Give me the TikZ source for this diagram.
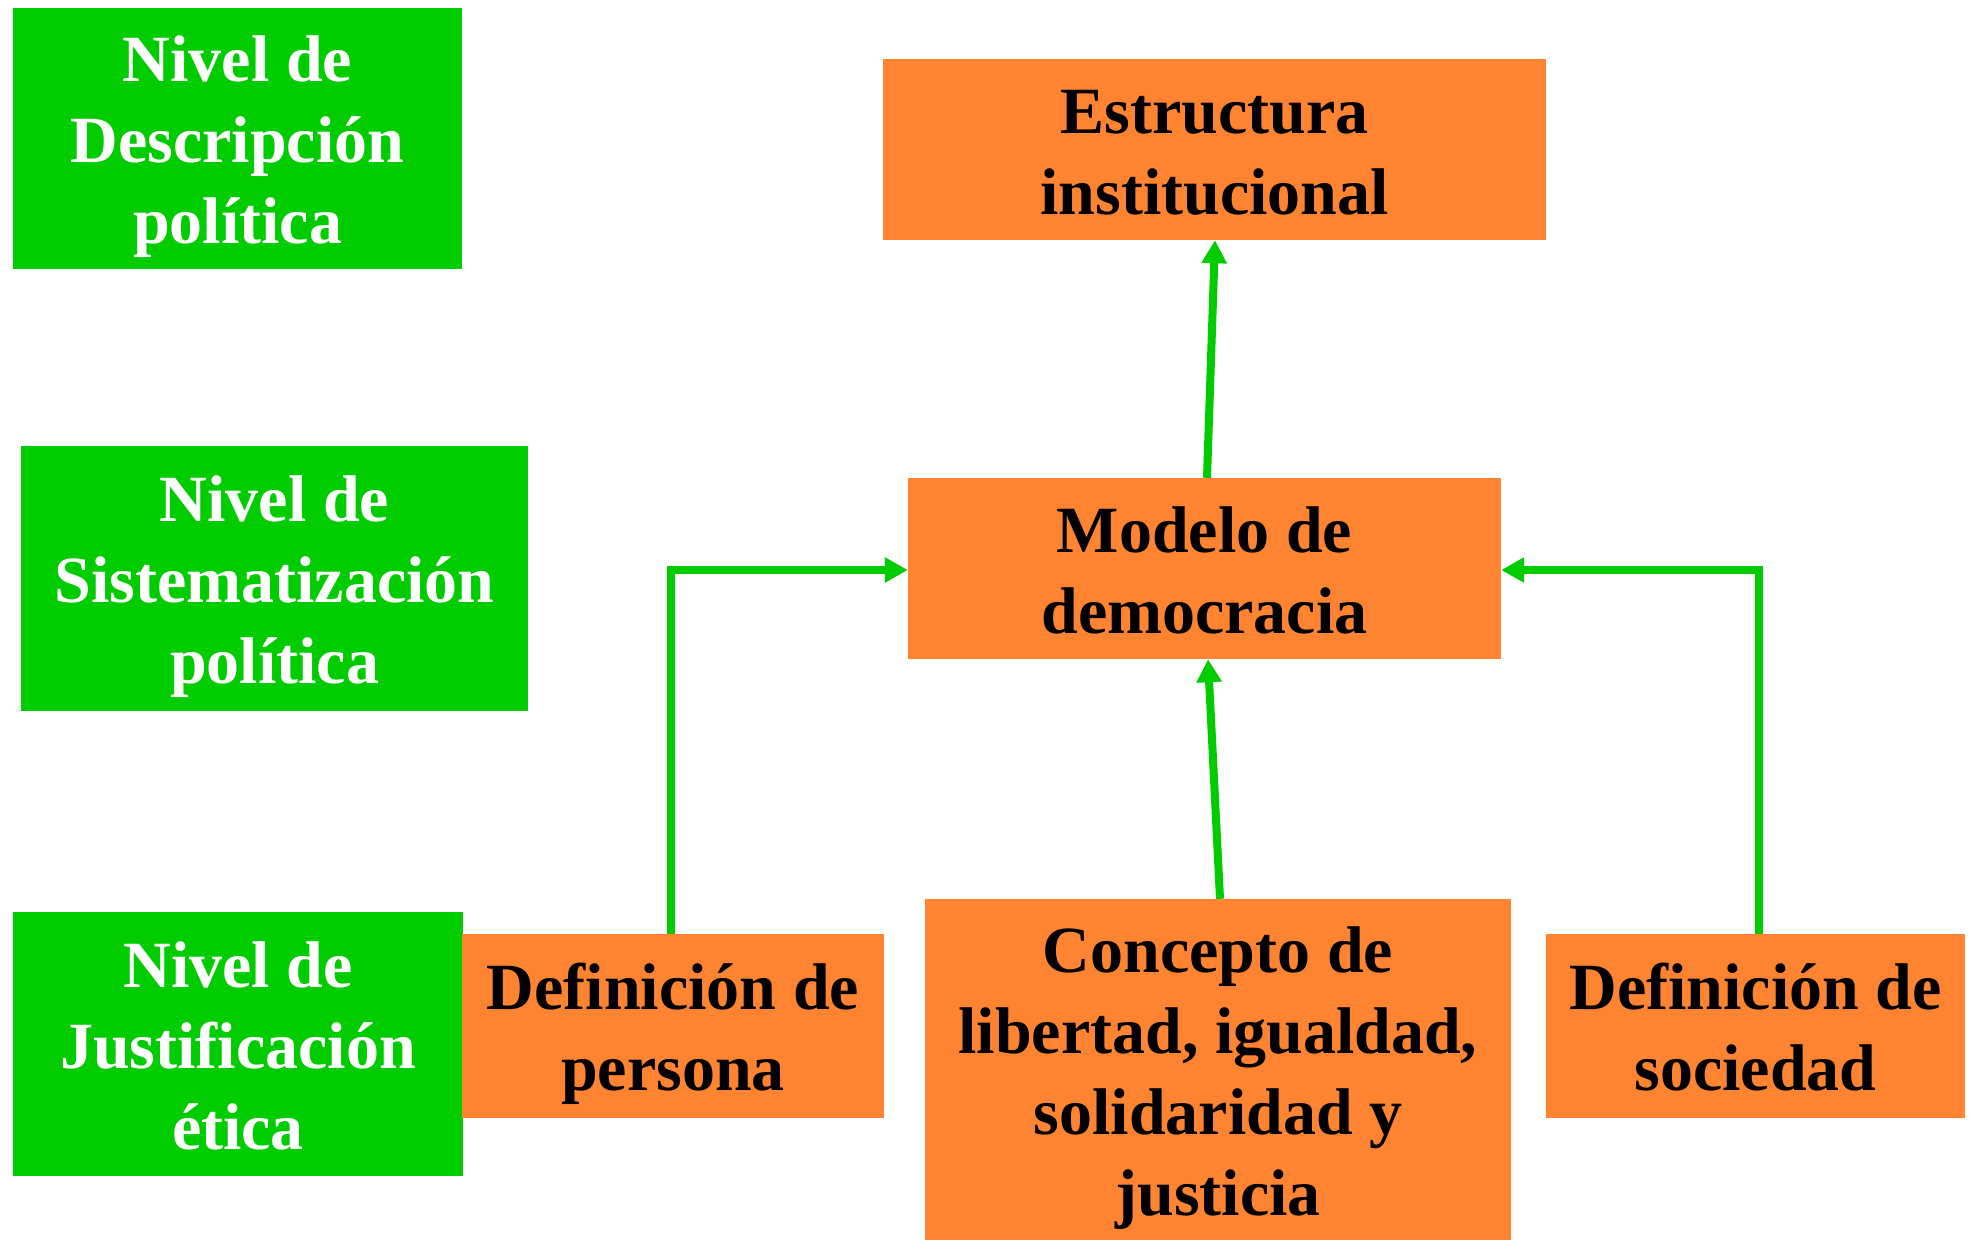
\documentclass[tikz,border=0pt]{standalone}
\usepackage{fontspec}
\setmainfont{Liberation Serif}
\usetikzlibrary{arrows.meta}
\definecolor{boxgreen}{RGB}{0,204,0}
\definecolor{boxorange}{RGB}{255,132,49}
\newcommand{\topS}{\rule{0pt}{72.7pt}}
\newcommand{\botS}{\rule[-24.3pt]{0pt}{0pt}}
\begin{document}
\begin{tikzpicture}[x=1pt,y=-1pt,
  box/.style={rectangle, inner sep=0pt, align=center, font=\fontsize{66}{81}\selectfont\bfseries},
  levelbox/.style={box, fill=boxgreen, text=white},
  itembox/.style={box, fill=boxorange, text=black},
  link/.style={draw=boxgreen, line width=8pt, -{Triangle[length=23pt,width=24pt]}}]
\useasboundingbox (0,0) rectangle (1973,1240);
\fill[white] (0,0) rectangle (1973,1240);

\node[levelbox, minimum width=449pt, minimum height=261pt] (desc) at (237.5,138.5) {\topS Nivel de\\Descripción\\política\botS};
\node[levelbox, minimum width=507pt, minimum height=265pt] (sist) at (274.5,578.5) {\topS Nivel de\\Sistematización\\política\botS};
\node[levelbox, minimum width=450pt, minimum height=264pt] (just) at (238,1044) {\topS Nivel de\\Justificación\\ética\botS};

\node[itembox, minimum width=663pt, minimum height=181pt] (estructura) at (1214.5,149.5) {\topS Estructura\\institucional\botS};
\node[itembox, minimum width=593pt, minimum height=181pt] (modelo) at (1204.5,568.5) {\topS Modelo de\\democracia\botS};
\node[itembox, minimum width=422pt, minimum height=184pt] (persona) at (673,1026) {\topS Definición de\\persona\botS};
\node[itembox, minimum width=586pt, minimum height=341pt] (concepto) at (1218,1069.5) {\topS Concepto de\\libertad, igualdad,\\solidaridad y\\justicia\botS};
\node[itembox, minimum width=419pt, minimum height=184pt] (sociedad) at (1755.5,1026) {\topS Definición de\\sociedad\botS};

\draw[link] ([xshift=2.5pt]modelo.north) -- ([xshift=0.5pt]estructura.south);
\draw[link] ([xshift=2pt]concepto.north) -- ([xshift=3.5pt]modelo.south);
\draw[link] ([xshift=-2pt]persona.north) |- ([yshift=-1.5pt]modelo.west);
\draw[link] ([xshift=3pt]sociedad.north) |- ([yshift=-1.5pt]modelo.east);
\end{tikzpicture}
\end{document}
